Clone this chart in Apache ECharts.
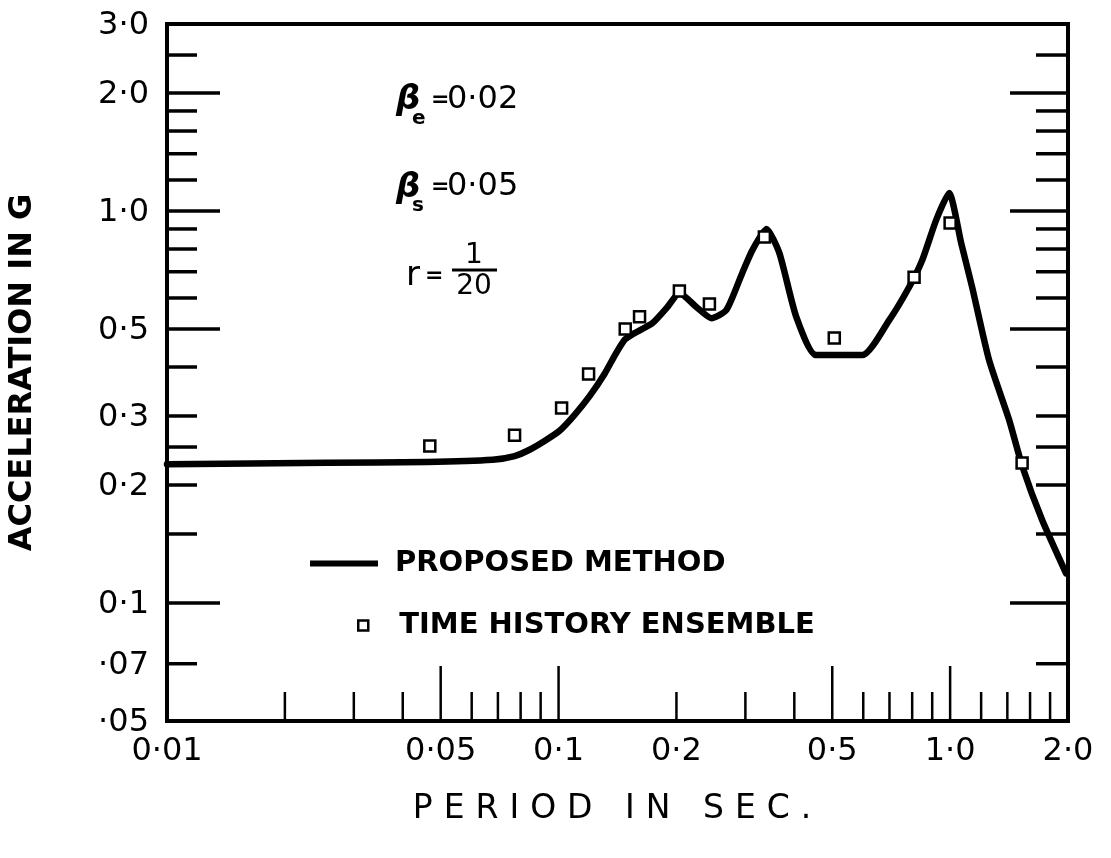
<!DOCTYPE html>
<html>
<head>
<meta charset="utf-8">
<script src="https://cdn.jsdelivr.net/npm/echarts@6/dist/echarts.min.js"></script>
<style>
html,body{margin:0;padding:0;background:#fff;}
#chart{width:1111px;height:858px;}
</style>
</head>
<body>
<div id="chart"></div>
<script>
// ---- Data ----
const periodCurve = [0.01, 0.0256, 0.0461, 0.0679, 0.0772, 0.0843, 0.0921, 0.1006, 0.1099, 0.1200, 0.1310, 0.1390, 0.1474, 0.1563, 0.1738, 0.1897, 0.2035, 0.2249, 0.2457, 0.2683, 0.2946, 0.3126, 0.3395, 0.3664, 0.4046, 0.455, 0.597, 0.699, 0.786, 0.849, 0.921, 0.994, 1.067, 1.138, 1.257, 1.415, 1.527, 1.717, 1.977];
const accelCurve  = [0.226, 0.228, 0.229, 0.232, 0.237, 0.246, 0.259, 0.275, 0.302, 0.337, 0.384, 0.427, 0.469, 0.488, 0.518, 0.569, 0.618, 0.569, 0.533, 0.559, 0.695, 0.795, 0.900, 0.781, 0.537, 0.429, 0.429, 0.527, 0.640, 0.750, 0.948, 1.111, 0.829, 0.640, 0.417, 0.293, 0.224, 0.163, 0.119];

const periodPts = [0.0469, 0.0772, 0.1018, 0.1193, 0.148, 0.161, 0.2035, 0.2428, 0.3354, 0.506, 0.809, 1.0, 1.527];
const accelPts  = [0.2515, 0.268, 0.3145, 0.384, 0.500, 0.537, 0.625, 0.579, 0.858, 0.474, 0.678, 0.932, 0.2276];

const xMajorTicks = [0.05, 0.1, 0.5, 1.0];
const xMinorTicks = [0.02, 0.03, 0.04, 0.06, 0.07, 0.08, 0.09, 0.2, 0.3, 0.4, 0.6, 0.7, 0.8, 0.9, 1.2, 1.4, 1.6, 1.8];
const yMajorTicks = [2.0, 1.0, 0.5, 0.1];
const yMinorTicks = [2.5, 1.8, 1.6, 1.4, 1.2, 0.9, 0.8, 0.7, 0.6, 0.4, 0.3, 0.25, 0.2, 0.15, 0.07];

const xLabelValues = [0.01, 0.05, 0.1, 0.2, 0.5, 1.0, 2.0];
const xLabelTexts  = ['0·01', '0·05', '0·1', '0·2', '0·5', '1·0', '2·0'];
const yLabelValues = [3.0, 2.0, 1.0, 0.5, 0.3, 0.2, 0.1, 0.07, 0.05];
const yLabelTexts  = ['3·0', '2·0', '1·0', '0·5', '0·3', '0·2', '0·1', '·07', '·05'];

const X_MIN = 0.01, X_MAX = 2.0, Y_MIN = 0.05, Y_MAX = 3.0;

// letter-spaced x-axis title (reference lettering is widely spaced)
const SPACED = {'PERIOD IN SEC.': '11px'};
(function(){
  const proto = CanvasRenderingContext2D.prototype;
  const orig = proto.fillText;
  proto.fillText = function(t, x, y, m){
    if (SPACED[t] && 'letterSpacing' in this) {
      const f = this.font;
      this.letterSpacing = SPACED[t];
      this.font = '10px serif'; this.font = f;
      const r = (m === undefined) ? orig.call(this, t, x, y) : orig.call(this, t, x, y, m);
      this.letterSpacing = '0px';
      this.font = '10px serif'; this.font = f;
      return r;
    }
    return orig.apply(this, arguments);
  };
})();

const FONT = '"DejaVu Sans", "Liberation Sans", sans-serif';

function xTickSeries(values, len, lw) {
  return {
    type: 'custom', coordinateSystem: 'cartesian2d', silent: true, clip: false, z: 6,
    data: values.map(v => [v, Y_MIN]),
    renderItem: function(params, api) {
      const x = api.coord([api.value(0), Y_MIN])[0];
      const cs = params.coordSys;
      const yb = cs.y + cs.height;
      return {type: 'line', shape: {x1: x, y1: yb, x2: x, y2: yb - len},
              style: {stroke: '#000', lineWidth: lw}};
    }
  };
}
function yTickSeries(values, lenL, lenR, lw) {
  return {
    type: 'custom', coordinateSystem: 'cartesian2d', silent: true, clip: false, z: 6,
    data: values.map(v => [X_MIN, v]),
    renderItem: function(params, api) {
      const y = api.coord([X_MIN, api.value(1)])[1];
      const cs = params.coordSys;
      return {type: 'group', children: [
        {type: 'line', shape: {x1: cs.x, y1: y, x2: cs.x + lenL, y2: y}, style: {stroke: '#000', lineWidth: lw}},
        {type: 'line', shape: {x1: cs.x + cs.width, y1: y, x2: cs.x + cs.width - lenR, y2: y}, style: {stroke: '#000', lineWidth: lw}}
      ]};
    }
  };
}

const chart = echarts.init(document.getElementById('chart'), null, {renderer: 'canvas'});

const option = {
  backgroundColor: '#fff',
  animation: false,
  grid: {left: 167, right: 43, top: 24, bottom: 137, containLabel: false, outerBoundsMode: 'none',
         show: true, borderColor: '#000', borderWidth: 4, backgroundColor: 'transparent'},
  xAxis: {
    type: 'log', logBase: 10, min: X_MIN, max: X_MAX,
    axisLine: {show: false}, axisTick: {show: false}, axisLabel: {show: false}, splitLine: {show: false},
    name: 'PERIOD IN SEC.', nameLocation: 'middle', nameGap: 72,
    nameTextStyle: {fontFamily: FONT, fontSize: 33, color: '#000'}
  },
  yAxis: {
    type: 'log', logBase: 10, min: Y_MIN, max: Y_MAX,
    axisLine: {show: false}, axisTick: {show: false}, axisLabel: {show: false}, splitLine: {show: false},
    name: 'ACCELERATION IN G', nameLocation: 'middle', nameGap: 128, nameRotate: 90,
    nameTextStyle: {fontFamily: FONT, fontSize: 32, fontWeight: 'bold', color: '#000'}
  },
  legend: [
    {
      data: [{name: 'PROPOSED METHOD', icon: 'rect'}],
      left: 310, top: 549, padding: 0, itemWidth: 68, itemHeight: 6, selectedMode: false,
      itemStyle: {color: '#000'},
      textStyle: {fontFamily: FONT, fontSize: 29, fontWeight: 'bold', color: '#000', padding: [0, 0, 0, 12]}
    },
    {
      data: [{name: 'TIME HISTORY ENSEMBLE', icon: 'rect'}],
      left: 357, top: 611, padding: 0, itemWidth: 10, itemHeight: 10, selectedMode: false,
      itemStyle: {color: '#fff', borderColor: '#000', borderWidth: 2.5},
      textStyle: {fontFamily: FONT, fontSize: 29, fontWeight: 'bold', color: '#000', padding: [0, 0, 0, 26]}
    }
  ],
  graphic: [
    {type: 'text', x: 396, y: 100, style: {text: 'β', font: 'italic bold 34px ' + FONT, fill: '#000', verticalAlign: 'middle'}},
    {type: 'text', x: 412, y: 119, style: {text: 'e', font: 'bold 20px ' + FONT, fill: '#000', verticalAlign: 'middle'}},
    {type: 'text', x: 431, y: 100, style: {text: '=', font: 'bold 22px ' + FONT, fill: '#000', verticalAlign: 'middle'}},
    {type: 'text', x: 447, y: 100, style: {text: '0·02', font: '32px ' + FONT, fill: '#000', verticalAlign: 'middle'}},

    {type: 'text', x: 396, y: 188, style: {text: 'β', font: 'italic bold 34px ' + FONT, fill: '#000', verticalAlign: 'middle'}},
    {type: 'text', x: 412, y: 206, style: {text: 's', font: 'bold 20px ' + FONT, fill: '#000', verticalAlign: 'middle'}},
    {type: 'text', x: 431, y: 187, style: {text: '=', font: 'bold 22px ' + FONT, fill: '#000', verticalAlign: 'middle'}},
    {type: 'text', x: 447, y: 187, style: {text: '0·05', font: '32px ' + FONT, fill: '#000', verticalAlign: 'middle'}},

    {type: 'text', x: 406, y: 276, style: {text: 'r', font: '34px ' + FONT, fill: '#000', verticalAlign: 'middle'}},
    {type: 'text', x: 425, y: 276, style: {text: '=', font: 'bold 22px ' + FONT, fill: '#000', verticalAlign: 'middle'}},
    {type: 'text', x: 474, y: 256, style: {text: '1', font: '28px ' + FONT, fill: '#000', align: 'center', verticalAlign: 'middle'}},
    {type: 'line', shape: {x1: 452, y1: 270, x2: 497, y2: 270}, style: {stroke: '#000', lineWidth: 3}},
    {type: 'text', x: 474, y: 287, style: {text: '20', font: '28px ' + FONT, fill: '#000', align: 'center', verticalAlign: 'middle'}}
  ],
  series: [
    {
      name: 'PROPOSED METHOD', type: 'line', color: '#000',
      data: periodCurve.map((x, i) => [x, accelCurve[i]]),
      showSymbol: false, smooth: 0.2, z: 3, silent: true,
      lineStyle: {color: '#000', width: 6.5, cap: 'round', join: 'round'}
    },
    {
      name: 'TIME HISTORY ENSEMBLE', type: 'scatter',
      data: periodPts.map((x, i) => [x, accelPts[i]]),
      symbol: 'rect', symbolSize: 11, z: 4, silent: true,
      itemStyle: {color: '#fff', borderColor: '#000', borderWidth: 2.5, opacity: 1}
    },
    xTickSeries(xMajorTicks, 55, 2.5),
    xTickSeries(xMinorTicks, 29, 2.5),
    yTickSeries(yMajorTicks, 53, 58, 3.5),
    yTickSeries(yMinorTicks, 30, 32, 3.5),
    {
      type: 'custom', coordinateSystem: 'cartesian2d', silent: true, clip: false, z: 6,
      data: xLabelValues.map(v => [v, Y_MIN]),
      renderItem: function(params, api) {
        const p = api.coord([api.value(0), Y_MIN]);
        return {type: 'text', x: p[0], y: p[1] + 31,
                style: {text: xLabelTexts[params.dataIndex], font: '32px ' + FONT, fill: '#000', align: 'center', verticalAlign: 'middle'}};
      }
    },
    {
      type: 'custom', coordinateSystem: 'cartesian2d', silent: true, clip: false, z: 6,
      data: yLabelValues.map(v => [X_MIN, v]),
      renderItem: function(params, api) {
        const p = api.coord([X_MIN, api.value(1)]);
        return {type: 'text', x: p[0] - 18, y: p[1] + 2,
                style: {text: yLabelTexts[params.dataIndex], font: '32px ' + FONT, fill: '#000', align: 'right', verticalAlign: 'middle'}};
      }
    }
  ]
};
chart.setOption(option);
</script>
</body>
</html>
